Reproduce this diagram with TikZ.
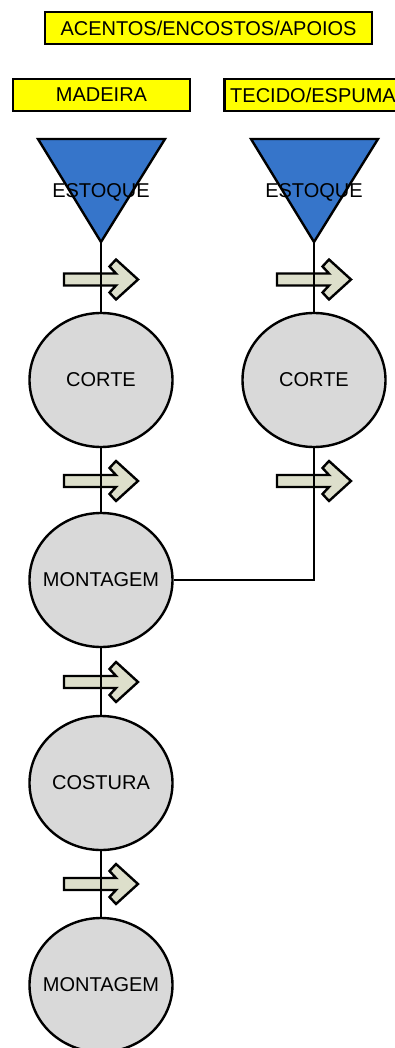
\documentclass[tikz,border=0pt]{standalone}
\usepackage{fontspec}
\setmainfont{Liberation Sans}
\usetikzlibrary{shapes.geometric}

\definecolor{amarelo}{RGB}{255,255,0}
\definecolor{azulestoque}{RGB}{54,117,202}
\definecolor{cinzaetapa}{RGB}{217,217,217}
\definecolor{verdeseta}{RGB}{221,223,203}

% texto sem largura, para o tamanho da elipse nao mudar
\newcommand{\txetapa}[1]{\makebox[0pt]{#1}}

\begin{document}
\begin{tikzpicture}[x=1pt,y=-1pt,line join=miter,
  font=\fontsize{20}{24}\selectfont,
  rotulo/.style={draw=black,line width=2.4pt,fill=amarelo,inner sep=0pt,minimum height=32pt,minimum width=177pt},
  etapa/.style={ellipse,draw=black,line width=2.4pt,fill=cinzaetapa,inner sep=0pt,minimum width=143pt,minimum height=134pt},
  estoque/.style={draw=black,line width=2.4pt,fill=azulestoque},
  seta/.style={draw=black,line width=2.4pt,fill=verdeseta},
  linha/.style={draw=black,line width=2.4pt}]

\useasboundingbox (0,0) rectangle (395,1048);

% titulos
\node[rotulo,minimum width=327pt] (titulo) at (208.5,28) {ACENTOS/ENCOSTOS/APOIOS};
\node[rotulo] (madeira) at (101.5,95) {MADEIRA};
\node[rotulo] (tecido) at (313,95) {TECIDO/ESPUMA};

% estoques (triangulos)
\draw[estoque] (38,139) -- (165,139) -- (101,242) coordinate (pontaA) -- cycle;
\draw[estoque] (251,139) -- (378,139) -- (314,242) coordinate (pontaB) -- cycle;
\node (estA) at (101,192) {ESTOQUE};
\node (estB) at (314,192) {ESTOQUE};

% etapas
\node[etapa] (corteA) at (101,380) {\txetapa{CORTE}};
\node[etapa] (montA) at (101,580) {\txetapa{MONTAGEM}};
\node[etapa] (costura) at (101,783) {\txetapa{COSTURA}};
\node[etapa] (montB) at (101,985) {\txetapa{MONTAGEM}};
\node[etapa] (corteB) at (314,380) {\txetapa{CORTE}};

% setas de fluxo
\foreach \px/\py in {101/279.5, 101/481, 101/682, 101/884, 314/279.5, 314/481} {
  \begin{scope}[shift={(\px,\py)}]
    \draw[seta] (-37,-6) -- (15,-6) -- (8.5,-13) -- (15,-20) -- (37,0)
      -- (15,20) -- (8.5,13) -- (15,6) -- (-37,6) -- cycle;
  \end{scope}
}

% ligacoes
\draw[linha] (pontaA) -- (corteA);
\draw[linha] (corteA) -- (montA);
\draw[linha] (montA) -- (costura);
\draw[linha] (costura) -- (montB);
\draw[linha] (pontaB) -- (corteB);
\draw[linha] (corteB) |- (montA);

\end{tikzpicture}
\end{document}
